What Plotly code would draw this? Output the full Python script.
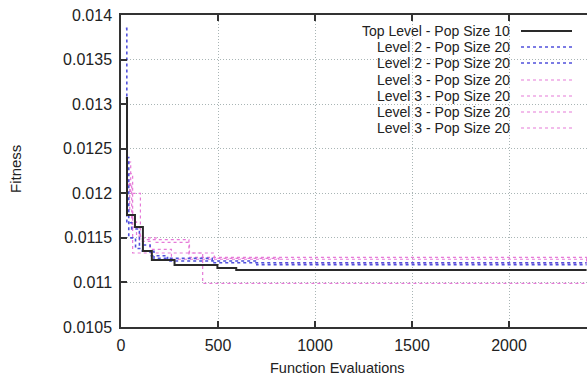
import plotly.graph_objects as go

# ---------------- data ----------------
series_names = [
    "Top Level - Pop Size 10",
    "Level 2 - Pop Size 20",
    "Level 2 - Pop Size 20",
    "Level 3 - Pop Size 20",
    "Level 3 - Pop Size 20",
    "Level 3 - Pop Size 20",
    "Level 3 - Pop Size 20",
]

top_x = [25, 31, 72, 113, 159, 276, 497, 594, 2400]
top_y = [0.01307, 0.011756, 0.011622, 0.011352, 0.011252, 0.011195, 0.011162, 0.011139, 0.011139]

l2a_x = [25, 30, 55, 95, 150, 240, 700, 2400]
l2a_y = [0.01385, 0.01167, 0.01160, 0.01142, 0.01130, 0.01124, 0.01120, 0.01120]

l2b_x = [28, 40, 75, 110, 170, 470, 2400]
l2b_y = [0.01240, 0.01150, 0.01138, 0.01135, 0.01127, 0.01122, 0.01122]

l3a_x = [30, 45, 60, 421, 2400]
l3a_y = [0.01215, 0.01180, 0.01133, 0.01099, 0.01099]

l3b_x = [35, 50, 100, 181, 353, 481, 814, 2400]
l3b_y = [0.01235, 0.01200, 0.01150, 0.01145, 0.01133, 0.01127, 0.01122, 0.01122]

l3c_x = [30, 55, 95, 150, 260, 2400]
l3c_y = [0.01210, 0.01162, 0.01146, 0.01137, 0.01126, 0.01123]

l3d_x = [40, 60, 80, 110, 350, 2400]
l3d_y = [0.01222, 0.01168, 0.01152, 0.01148, 0.01128, 0.01124]

x_ticks = [0, 500, 1000, 1500, 2000]
y_ticks = [0.0105, 0.011, 0.0115, 0.012, 0.0125, 0.013, 0.0135, 0.014]
y_tick_labels = ["0.0105", "0.011", "0.0115", "0.012", "0.0125", "0.013", "0.0135", "0.014"]

# ---------------- styles ----------------
BLACK = "#2a2a2a"
BLUE = "#5050dc"
PINK = "#e67ad8"
styles = [
    dict(color=BLACK, width=2, dash="solid"),
    dict(color=BLUE, width=1.6, dash="dot"),
    dict(color=BLUE, width=1.6, dash="dot"),
    dict(color=PINK, width=1.2, dash="dot"),
    dict(color=PINK, width=1.2, dash="dot"),
    dict(color=PINK, width=1.2, dash="dot"),
    dict(color=PINK, width=1.2, dash="dot"),
]
xs = [top_x, l2a_x, l2b_x, l3a_x, l3b_x, l3c_x, l3d_x]
ys = [top_y, l2a_y, l2b_y, l3a_y, l3b_y, l3c_y, l3d_y]

W, H = 587, 378
L, R, T, B = 121, 0, 15, 51
PW, PH = W - L - R, H - T - B


def px2paper_x(px):
    return (px - L) / PW


def px2paper_y(py):
    return (H - B - py) / PH


fig = go.Figure()
# draw in reverse so the black line lies on top
for i in reversed(range(len(xs))):
    fig.add_trace(go.Scatter(
        x=xs[i], y=ys[i], mode="lines", line_shape="hv",
        line=styles[i], name=series_names[i], showlegend=False,
        hoverinfo="skip",
    ))

FONT = "Liberation Sans, Arial, sans-serif"

shapes = [
    # opaque key box (hides grid behind the key)
    dict(type="rect", xref="paper", yref="paper",
         x0=px2paper_x(263), x1=1.0, y0=px2paper_y(137), y1=1.0,
         fillcolor="white", line=dict(width=0), layer="between"),
]
annotations = []
row_y = [31, 47, 63, 80, 96, 112, 128]
for i, name in enumerate(series_names):
    annotations.append(dict(
        xref="paper", yref="paper", x=px2paper_x(511), y=px2paper_y(row_y[i]),
        xanchor="right", yanchor="middle", text=name, showarrow=False,
        font=dict(family=FONT, size=14, color="#222"),
        borderpad=0,
    ))
    st = styles[i]
    shapes.append(dict(
        type="line", xref="paper", yref="paper",
        x0=px2paper_x(521), x1=px2paper_x(572),
        y0=px2paper_y(row_y[i]), y1=px2paper_y(row_y[i]),
        line=dict(color=st["color"], width=st["width"], dash=st["dash"]),
    ))

annotations.append(dict(
    xref="paper", yref="paper", x=px2paper_x(337), y=px2paper_y(368),
    xanchor="center", yanchor="middle", text="Function Evaluations",
    showarrow=False, font=dict(family=FONT, size=14.5, color="#222"),
))
annotations.append(dict(
    xref="paper", yref="paper", x=px2paper_x(15), y=px2paper_y(169),
    xanchor="center", yanchor="middle", text="Fitness", textangle=-90,
    showarrow=False, font=dict(family=FONT, size=15, color="#222"),
))

GRID = "#a9b5b5"
fig.update_layout(
    width=W, height=H,
    margin=dict(l=L, r=R, t=T, b=B, autoexpand=False),
    paper_bgcolor="white", plot_bgcolor="white",
    font=dict(family=FONT, size=13, color="#222"),
    shapes=shapes, annotations=annotations,
    showlegend=False,
)
fig.update_xaxes(
    range=[0, (W - L) / ((218 - 121) / 500.0)],
    tickvals=x_ticks, ticktext=[str(v) for v in x_ticks],
    showline=True, linecolor="#333", linewidth=1.5, mirror="allticks",
    ticks="inside", ticklen=6, tickcolor="#333", tickwidth=1.5,
    showgrid=True, gridcolor=GRID, griddash="1px,2px", gridwidth=1,
    zeroline=False, tickfont=dict(size=16), automargin=False,
    ticklabelstandoff=3,
)
fig.update_yaxes(
    range=[0.0105, 0.014],
    tickvals=y_ticks, ticktext=y_tick_labels,
    showline=True, linecolor="#333", linewidth=1.5,
    ticks="inside", ticklen=6, tickcolor="#333", tickwidth=1.5,
    showgrid=True, gridcolor=GRID, griddash="1px,2px", gridwidth=1,
    zeroline=False, tickfont=dict(size=16), automargin=False,
    ticklabelstandoff=4,
)

fig.write_html(
    "out.html",
    config={"displayModeBar": False},
    post_script="document.body.style.margin='0';document.body.style.padding='0';",
)
